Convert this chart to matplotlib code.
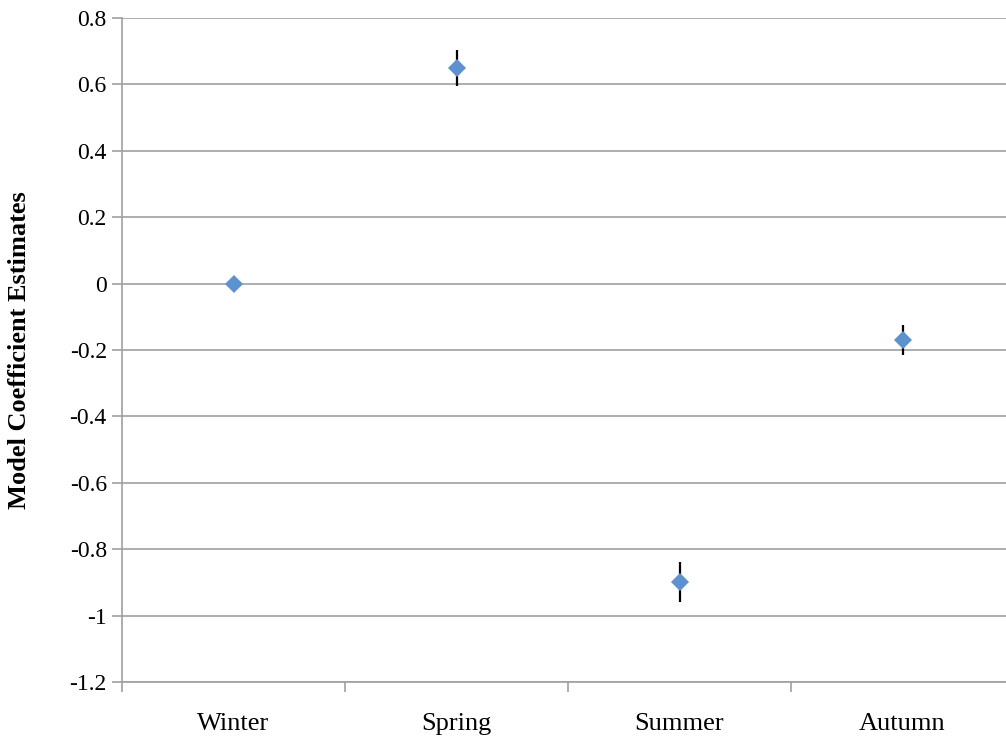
import numpy as np
import matplotlib.pyplot as plt

seasons = ['Winter', 'Spring', 'Summer', 'Autumn']
estimates = [0.0, 0.65, -0.90, -0.17]
errors = [0.0, 0.055, 0.06, 0.044]
ytick_vals = [-1.2, -1.0, -0.8, -0.6, -0.4, -0.2, 0.0, 0.2, 0.4, 0.6, 0.8]
ytick_labels = ['-1.2', '-1', '-0.8', '-0.6', '-0.4', '-0.2', '0', '0.2', '0.4', '0.6', '0.8']

plt.rcParams['font.family'] = ['Liberation Serif', 'DejaVu Serif']

fig = plt.figure(figsize=(10.06, 7.40), dpi=100)
ax = fig.add_axes([0.1213, 0.0784, 0.8867, 0.8973])

x = np.arange(len(seasons)) + 0.5
ax.errorbar(x, estimates, yerr=errors, fmt='none', ecolor='black', elinewidth=1.6, capsize=0, zorder=3)
ax.plot(x, estimates, 'D', color='#5B92CF', markersize=9.5, markeredgewidth=0, zorder=4)

ax.set_xlim(0, 4)
ax.set_ylim(-1.2, 0.8)
ax.set_yticks(ytick_vals)
ax.set_yticklabels(ytick_labels)
ax.yaxis.grid(True, color='#a0a0a0', linewidth=1.2)
ax.set_axisbelow(True)

ax.set_xticks([0, 1, 2, 3])
ax.set_xticklabels([])
ax.set_xticks(x, minor=True)
ax.set_xticklabels(seasons, minor=True)
ax.tick_params(axis='x', which='major', direction='out', length=7, color='#a0a0a0', width=1.2)
ax.tick_params(axis='x', which='minor', length=0, pad=22, labelsize=19)
ax.tick_params(axis='y', direction='out', length=7, color='#a0a0a0', width=1.2, labelsize=17, pad=4)

for s in ['top', 'right']:
    ax.spines[s].set_visible(False)
for s in ['left', 'bottom']:
    ax.spines[s].set_color('#a0a0a0')
    ax.spines[s].set_linewidth(1.2)

ax.set_ylabel('Model Coefficient Estimates', fontsize=19, fontweight='bold')
ax.yaxis.set_label_coords(-0.102, 0.5)

fig.savefig('out.png', dpi=100)
